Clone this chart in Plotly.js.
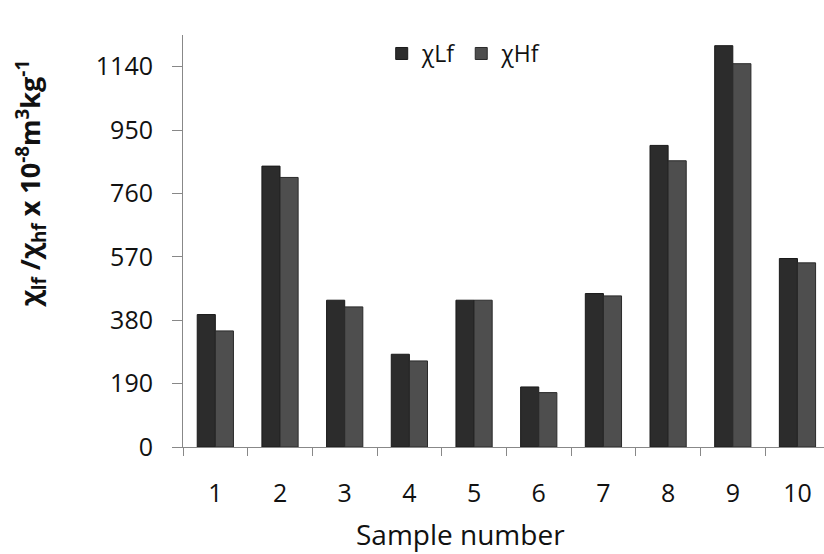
<!DOCTYPE html>
<html>
<head>
<meta charset="utf-8">
<script src="https://cdn.plot.ly/plotly-3.0.1.min.js"></script>
<style>html,body{margin:0;padding:0;background:#fff;}#chart{width:824px;height:554px;}</style>
</head>
<body>
<div id="chart"></div>
<script>
const samples = ['1','2','3','4','5','6','7','8','9','10'];
const chiLf = [397, 842, 440, 278, 440, 180, 460, 904, 1203, 565];
const chiHf = [348, 808, 420, 258, 440, 163, 453, 858, 1149, 552];
const yTicks = [0, 190, 380, 570, 760, 950, 1140];

const traces = [
  {type:'bar', name:'χLf', x:samples, y:chiLf,
   marker:{color:'#2c2c2c', line:{color:'#1a1a1a', width:1}}},
  {type:'bar', name:'χHf', x:samples, y:chiHf,
   marker:{color:'#4e4e4e', line:{color:'#2a2a2a', width:1}}}
];

const FONT = '"Open Sans", Lato, sans-serif';

const layout = {
  width:824, height:554,
  margin:{l:183, r:0, t:35, b:107},
  paper_bgcolor:'#fff', plot_bgcolor:'#fff',
  font:{family:FONT, color:'#111', size:18},
  barmode:'group', bargap:0.44, bargroupgap:0,
  showlegend:true,
  legend:{orientation:'h', x:0.31, y:0.955, xanchor:'left', yanchor:'middle',
          font:{size:23, color:'#111'}, bgcolor:'rgba(0,0,0,0)', itemwidth:30},
  xaxis:{type:'category', range:[-0.5, 9.41], showline:true, linecolor:'#888', linewidth:1,
         ticks:'outside', tickson:'boundaries', ticklen:8, tickcolor:'#888',
         ticklabelstandoff:24, tickfont:{size:25, color:'#111'},
         showgrid:false, zeroline:false, fixedrange:true},
  yaxis:{range:[0,1235], tickvals:yTicks, ticktext:yTicks.map(String),
         showline:true, linecolor:'#888', linewidth:1,
         ticks:'outside', ticklen:10, tickcolor:'#888', ticklabelstandoff:14,
         tickfont:{size:25, color:'#111'}, showgrid:false, zeroline:false},
  annotations:[{
    xref:'paper', yref:'paper', x:-0.238, y:0.641, xanchor:'center', yanchor:'middle',
    textangle:-90, showarrow:false,
    text:'<b>χ<sub>lf</sub> /χ<sub>hf</sub> x 10<sup>-8</sup>m<sup>3</sup>kg<sup>-1</sup></b>',
    font:{size:27, color:'#111', family:FONT}
  },{
    xref:'paper', yref:'paper', x:(460-183)/641, y:-(534-447)/412, xanchor:'center', yanchor:'middle',
    showarrow:false, text:'Sample number', font:{size:28, color:'#111', family:FONT}
  }]
};

Plotly.newPlot('chart', traces, layout, {displayModeBar:false, staticPlot:true});
</script>
</body>
</html>
